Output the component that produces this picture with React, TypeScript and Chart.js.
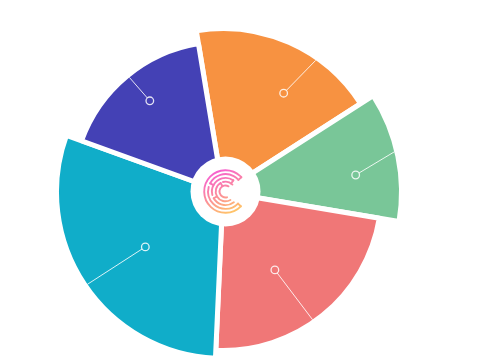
import React, { useEffect, useRef } from 'react';
import { Chart, registerables } from 'chart.js';

Chart.register(...registerables);

// ---- data ----
const categories = ['Orange', 'Green', 'Red', 'Cyan', 'Purple'];
// radial value of each slice (scale 0..164)
const radiusValues = [163.5, 178.5, 158.5, 166.5, 150.5];
// angular size of each slice, degrees
const angleValues = [66.7, 42.2, 83.1, 107.3, 60.7];
const sliceColors = ['#F79241', '#79C698', '#F07777', '#10ADC9', '#4441B5'];
const START_ANGLE = 350.6;

// leader tick styling per slice (relative to the slice middle)
const tickDotAngle = [7.6, 4.3, 5.3, -1.5, 1];
const tickDotFraction = [0.72, 0.76, 0.6, 0.58, 0.79];
const tickEndAngle = [11.2, -1.6, 3.9, -0.5, 0.5];

const BORDER = 5;
const DEG = Math.PI / 180;

const decorPlugin = {
  id: 'decor',
  afterDatasetsDraw(chart: any) {
    const ctx = chart.ctx as CanvasRenderingContext2D;
    const meta = chart.getDatasetMeta(0);
    ctx.save();
    meta.data.forEach((arc: any, i: number) => {
      const { x, y, startAngle, endAngle, outerRadius } = arc.getProps(
        ['x', 'y', 'startAngle', 'endAngle', 'outerRadius'],
        true
      );
      const mid = (startAngle + endAngle) / 2;
      const visR = outerRadius - BORDER / 2;
      const da = mid + tickDotAngle[i] * DEG;
      const dr = visR * tickDotFraction[i];
      const dx = x + Math.cos(da) * dr;
      const dy = y + Math.sin(da) * dr;
      const ea = mid + tickEndAngle[i] * DEG;
      const ex = x + Math.cos(ea) * visR;
      const ey = y + Math.sin(ea) * visR;
      const ang = Math.atan2(ey - dy, ex - dx);
      const rDot = 3.8;
      ctx.strokeStyle = 'rgba(255,255,255,0.85)';
      ctx.lineWidth = 1;
      ctx.beginPath();
      ctx.moveTo(dx + Math.cos(ang) * rDot, dy + Math.sin(ang) * rDot);
      ctx.lineTo(ex, ey);
      ctx.stroke();
      ctx.lineWidth = 1.3;
      ctx.beginPath();
      ctx.arc(dx, dy, rDot, 0, Math.PI * 2);
      ctx.stroke();
    });

    // centre disc with logo
    const scale = chart.scales.r;
    const cx = scale.xCenter + 2.5;
    const cy = scale.yCenter - 0.5;
    ctx.fillStyle = '#ffffff';
    ctx.beginPath();
    ctx.arc(cx, cy, 35, 0, Math.PI * 2);
    ctx.fill();

    const lx = cx;
    const ly = cy;
    const g = ctx.createLinearGradient(lx - 12, ly - 22, lx + 8, ly + 22);
    g.addColorStop(0, '#F65BD6');
    g.addColorStop(0.5, '#FB8B9E');
    g.addColorStop(1, '#FFC865');
    ctx.strokeStyle = g;
    ctx.lineWidth = 1.9;
    ctx.lineCap = 'round';
    const arcSeg = (r: number, a0: number, a1: number) => {
      ctx.beginPath();
      ctx.arc(lx, ly, r, a0 * DEG, a1 * DEG);
      ctx.stroke();
    };
    const radial = (a: number, r0: number, r1: number) => {
      ctx.beginPath();
      ctx.moveTo(lx + Math.cos(a * DEG) * r0, ly + Math.sin(a * DEG) * r0);
      ctx.lineTo(lx + Math.cos(a * DEG) * r1, ly + Math.sin(a * DEG) * r1);
      ctx.stroke();
    };
    // outer band
    arcSeg(21.3, 44, 318);
    arcSeg(17.4, 44, 195);
    arcSeg(17.4, 208, 318);
    radial(44, 17.4, 21.3);
    radial(318, 17.4, 21.3);
    // inner maze rings
    arcSeg(13.6, 52, 150);
    arcSeg(13.6, 165, 305);
    radial(208, 13.6, 17.4);
    arcSeg(9.8, 60, 240);
    arcSeg(9.8, 255, 315);
    radial(150, 9.8, 13.6);
    radial(305, 9.8, 13.6);
    arcSeg(6, 75, 300);
    radial(240, 6, 9.8);
    ctx.restore();
  },
};

export default function App() {
  const ref = useRef<HTMLCanvasElement>(null);
  useEffect(() => {
    const chart = new Chart(ref.current as HTMLCanvasElement, {
      type: 'polarArea',
      data: {
        labels: categories,
        datasets: [
          {
            data: radiusValues,
            backgroundColor: sliceColors,
            borderColor: '#ffffff',
            borderWidth: BORDER,
            angle: angleValues,
            clip: false,
          } as any,
        ],
      },
      options: {
        responsive: false,
        animation: false,
        layout: { padding: { left: 0, right: 53, top: 28, bottom: 0 } },
        plugins: { legend: { display: false }, tooltip: { enabled: false } },
        scales: {
          r: {
            display: false,
            min: 0,
            max: 164,
            startAngle: START_ANGLE,
          },
        },
      } as any,
      plugins: [decorPlugin],
    });
    return () => chart.destroy();
  }, []);
  return (
    <canvas
      ref={ref}
      width={499}
      height={356}
      style={{ position: 'absolute', left: 0, top: 0, width: 499, height: 356 }}
    />
  );
}
